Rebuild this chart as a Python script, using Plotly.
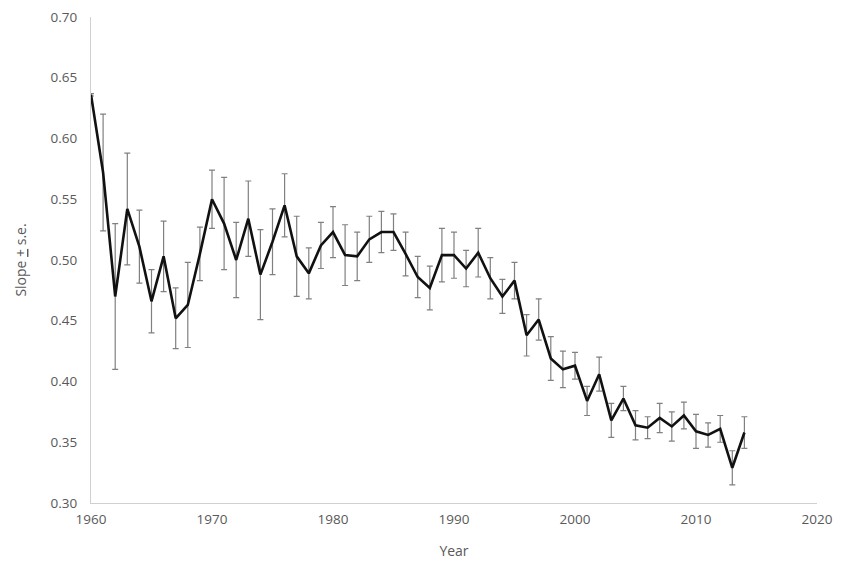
import plotly.graph_objects as go

years = list(range(1960, 2015))
slope = [0.636, 0.572, 0.470, 0.542, 0.511, 0.466, 0.503, 0.452, 0.463, 0.505,
         0.550, 0.530, 0.500, 0.534, 0.488, 0.515, 0.545, 0.503, 0.489, 0.512,
         0.523, 0.504, 0.503, 0.517, 0.523, 0.523, 0.505, 0.486, 0.477, 0.504,
         0.504, 0.493, 0.506, 0.485, 0.470, 0.483, 0.438, 0.451, 0.419, 0.410,
         0.413, 0.384, 0.406, 0.368, 0.386, 0.364, 0.362, 0.370, 0.363, 0.372,
         0.359, 0.356, 0.361, 0.329, 0.358]
se = [0.001, 0.048, 0.060, 0.046, 0.030, 0.026, 0.029, 0.025, 0.035, 0.022,
      0.024, 0.038, 0.031, 0.031, 0.037, 0.027, 0.026, 0.033, 0.021, 0.019,
      0.021, 0.025, 0.020, 0.019, 0.017, 0.015, 0.018, 0.017, 0.018, 0.022,
      0.019, 0.015, 0.020, 0.017, 0.014, 0.015, 0.017, 0.017, 0.018, 0.015,
      0.011, 0.012, 0.014, 0.014, 0.010, 0.012, 0.009, 0.012, 0.012, 0.011,
      0.014, 0.010, 0.011, 0.014, 0.013]

font_family = "Open Sans, Lato, sans-serif"
grey = "#595959"

fig = go.Figure()
fig.add_trace(go.Scatter(
    x=years, y=slope, mode="lines",
    line=dict(color="#111111", width=2.6),
    error_y=dict(type="data", array=se, visible=True, color="#808080",
                 thickness=1.2, width=3),
    showlegend=False,
))

fig.update_layout(
    width=846, height=556,
    margin=dict(l=83, r=37, t=9, b=61),
    paper_bgcolor="white", plot_bgcolor="white",
    font=dict(family=font_family, color=grey, size=13),
    xaxis=dict(range=[1960, 2020], dtick=10, tick0=1960, showgrid=False,
               zeroline=False, showline=True, linecolor="#d0d0d0", linewidth=1.3,
               ticks="", automargin=False, ticklabelstandoff=4,
               ticklabeloverflow="allow",
               title=dict(text="Year", font=dict(size=14), standoff=18),
               tickfont=dict(size=13.5)),
    yaxis=dict(range=[0.30, 0.70], dtick=0.05, tick0=0.30, tickformat=".2f",
               showgrid=False, zeroline=False, showline=True, linecolor="#d0d0d0",
               linewidth=1.3, ticks="", automargin=False, ticklabelstandoff=10,
               ticklabeloverflow="allow",
               title=dict(text="Slope <u>+</u> s.e.", font=dict(size=14), standoff=20),
               tickfont=dict(size=13.5)),
)

fig.write_html("out.html")
